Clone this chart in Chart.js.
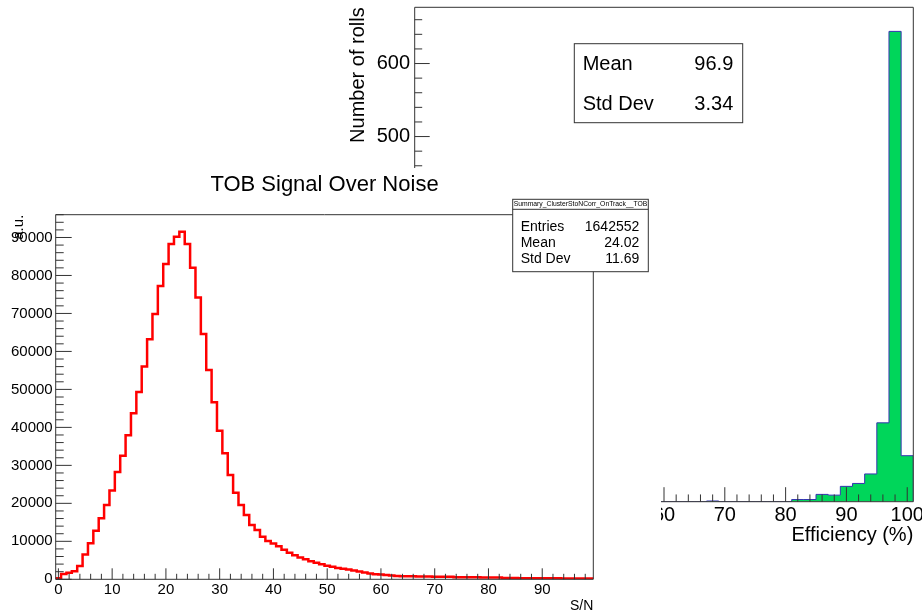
<!DOCTYPE html>
<html>
<head>
<meta charset="utf-8">
<script src="https://cdn.jsdelivr.net/npm/chart.js@4.4.1/dist/chart.umd.min.js"></script>
<style>
  html, body { margin: 0; padding: 0; background: #fff; }
  #wrap { position: relative; width: 922px; height: 612px; overflow: hidden; background: #fff; }
  #pad1 { position: absolute; left: 0; top: 0; width: 922px; height: 612px; }
  #pad2 { position: absolute; left: 0; top: 168px; width: 661px; height: 444px; background: #fff; }
  canvas { display: block; }
</style>
</head>
<body>
<div id="wrap">
  <div id="pad1"><canvas id="c1" width="922" height="612"></canvas></div>
  <div id="pad2"><canvas id="c2" width="661" height="444"></canvas></div>
</div>
<script>
// ---------------- Data: efficiency histogram (background pad) ----------------
const effBinCenters = [20,22,24,26,28,30,32,34,36,38,40,42,44,46,48,50,52,54,56,58,
                       60,62,64,66,68,70,72,74,76,78,80,82,84,86,88,90,92,94,96,98,100];
const effCounts     = [0,0,0,0,0,0,0,0,0,0,0,0,0,0,0,0,0,0,0,0,
                       0,0,0,0,1,0,0,0,0,0,0,3,3,10,9,21,25,38,108,644,63];
const effBinWidth = 2;
const effXTicks = [20,30,40,50,60,70,80,90,100];
const effYTicks = [0,100,200,300,400,500,600];
const effStats = [['Mean','96.9'],['Std Dev','3.34']];

// ---------------- Data: TOB signal over noise (foreground pad) ----------------
const snBinCenters = Array.from({length: 100}, (_, i) => i);
const snCounts = [
  300, 1400, 1750, 2100, 3500, 6500, 9500, 12800, 16050, 19550,
  23350, 28250, 32550, 37900, 43700, 49300, 56000, 63200, 69850, 77200,
  83000, 88300, 90200, 91500, 88300, 82000, 74200, 64600, 55100, 46600,
  39100, 33200, 27450, 22800, 19550, 16950, 14300, 13000, 11200, 10100,
  9400, 8700, 7800, 7000, 6300, 5750, 5250, 4750, 4350, 3950,
  3600, 3300, 3000, 2750, 2550, 2300, 2050, 1800, 1550, 1350,
  1250, 1100, 1000, 900, 820, 790, 780, 770, 760, 730,
  700, 690, 680, 670, 560, 540, 530, 520, 510, 500,
  490, 480, 470, 330, 320, 310, 300, 290, 280, 270,
  260, 255, 250, 245, 240, 235, 230, 225, 220, 215
];
const snBinWidth = 1;
const snXTicks = [0,10,20,30,40,50,60,70,80,90];
const snYTicks = [0,10000,20000,30000,40000,50000,60000,70000,80000,90000];
const snStatsHeader = 'Summary_ClusterStoNCorr_OnTrack__TOB';
const snStats = [['Entries','1642552'],['Mean','24.02'],['Std Dev','11.69']];

// ---------------- helpers ----------------
const FONT = "'Liberation Sans', Arial, Helvetica, sans-serif";
Chart.defaults.font.family = FONT;
Chart.defaults.color = '#000';

function stepPoints(centers, counts, width) {
  const pts = [{x: centers[0] - width / 2, y: 0}];
  centers.forEach((c, i) => pts.push({x: c - width / 2, y: counts[i]}));
  pts.push({x: centers[centers.length - 1] + width / 2, y: 0});
  return pts;
}

const rootFrame = {
  id: 'rootFrame',
  afterDatasetsDraw(chart, args, o) {
    const {ctx, chartArea: a, scales: {x, y}} = chart;
    ctx.save();
    ctx.strokeStyle = o.color;
    ctx.lineWidth = 1;
    ctx.beginPath();
    ctx.rect(a.left, a.top, a.right - a.left, a.bottom - a.top);
    const isMajor = (v, step) => Math.abs(v / step - Math.round(v / step)) < 1e-6;
    for (let v = Math.ceil(x.min / o.xMinor) * o.xMinor; v <= x.max + 1e-9; v += o.xMinor) {
      const px = x.getPixelForValue(v);
      const len = isMajor(v, o.xMajor) ? o.xTick : o.xTick / 2;
      ctx.moveTo(px, a.bottom); ctx.lineTo(px, a.bottom - len);
    }
    for (let v = Math.ceil(y.min / o.yMinor) * o.yMinor; v <= y.max + 1e-9; v += o.yMinor) {
      const py = y.getPixelForValue(v);
      const len = isMajor(v, o.yMajor) ? o.yTick : o.yTick / 2;
      ctx.moveTo(a.left, py); ctx.lineTo(a.left + len, py);
    }
    ctx.stroke();
    ctx.restore();
  },
  afterDraw(chart, args, o) {
    const s = o.stats;
    if (!s) return;
    const ctx = chart.ctx;
    ctx.save();
    ctx.fillStyle = '#fff';
    ctx.fillRect(s.left, s.top, s.right - s.left, s.bottom - s.top);
    ctx.strokeStyle = o.color;
    ctx.lineWidth = 1;
    ctx.strokeRect(s.left, s.top, s.right - s.left, s.bottom - s.top);
    ctx.fillStyle = '#000';
    ctx.textBaseline = 'middle';
    if (s.header) {
      ctx.beginPath(); ctx.moveTo(s.left, s.sepY); ctx.lineTo(s.right, s.sepY); ctx.stroke();
      ctx.font = s.headerSize + 'px ' + FONT;
      ctx.textAlign = 'center';
      ctx.fillText(s.header, (s.left + s.right) / 2, s.headerY, s.right - s.left - 2);
    }
    ctx.font = s.size + 'px ' + FONT;
    s.rows.forEach((r, i) => {
      ctx.textAlign = 'left';  ctx.fillText(r[0], s.labelX, s.rowY[i]);
      ctx.textAlign = 'right'; ctx.fillText(r[1], s.valueX, s.rowY[i]);
    });
    ctx.restore();
  }
};
Chart.register(rootFrame);

const noLegend = {legend: {display: false}, tooltip: {enabled: false}};

// ---------------- Chart 1: efficiency ----------------
new Chart(document.getElementById('c1'), {
  type: 'line',
  data: {
    datasets: [{
      data: stepPoints(effBinCenters, effCounts, effBinWidth),
      stepped: 'before',
      borderColor: '#3535b0',
      borderWidth: 1,
      backgroundColor: '#00d65a',
      fill: 'origin',
      pointRadius: 0
    }]
  },
  options: {
    responsive: false, animation: false, events: [],
    layout: {padding: {left: 340, top: 7.3, right: 922 - 913.3, bottom: 612 - 501.7 - 46}},
    plugins: {
      ...noLegend,
      rootFrame: {
        color: '#333', xMinor: 2, xMajor: 10, yMinor: 20, yMajor: 100, xTick: 14.5, yTick: 15,
        stats: {left: 574.3, top: 43.7, right: 742.7, bottom: 122.7, size: 20,
                labelX: 582.7, valueX: 733.3, rowY: [64.5, 104.5], rows: effStats}
      }
    },
    scales: {
      x: {
        type: 'linear', min: 19, max: 101, bounds: 'data',
        grid: {display: false, drawTicks: false}, border: {display: false},
        afterBuildTicks: s => { s.ticks = effXTicks.map(v => ({value: v})); },
        afterFit: s => { s.height = 46; s.paddingLeft = 0; s.paddingRight = 0; },
        ticks: {autoSkip: false, maxRotation: 0, padding: 2, font: {size: 20}, color: '#000', callback: v => String(v)},
        title: {display: true, text: 'Efficiency (%)', align: 'end', font: {size: 20}, color: '#000', padding: {top: 0, bottom: 0}}
      },
      y: {
        type: 'linear', min: 0, max: 677, bounds: 'data',
        grid: {display: false, drawTicks: false}, border: {display: false},
        afterBuildTicks: s => { s.ticks = effYTicks.map(v => ({value: v})); },
        afterFit: s => { s.width = 414.7 - 340; s.paddingTop = 0; s.paddingBottom = 0; },
        ticks: {autoSkip: false, padding: 4.7, font: {size: 20}, color: '#000', callback: v => String(v)},
        title: {display: true, text: 'Number of rolls', align: 'end', font: {size: 20}, color: '#000', padding: {top: 6, bottom: 0}}
      }
    }
  }
});

// ---------------- Chart 2: TOB signal over noise ----------------
new Chart(document.getElementById('c2'), {
  type: 'line',
  data: {
    datasets: [{
      data: stepPoints(snBinCenters, snCounts, snBinWidth),
      stepped: 'before',
      borderColor: '#ff0000',
      borderWidth: 2.5,
      fill: false,
      pointRadius: 0
    }]
  },
  options: {
    responsive: false, animation: false, events: [],
    layout: {padding: {left: 0, top: 0, right: 661 - 593.3, bottom: 0}},
    plugins: {
      ...noLegend,
      title: {display: true, text: 'TOB Signal Over Noise', fullSize: false, color: '#000',
              font: {size: 22, weight: 'normal'}, padding: {top: 3.8, bottom: 16.5}},
      rootFrame: {
        color: '#333', xMinor: 2, xMajor: 10, yMinor: 2000, yMajor: 10000, xTick: 11, yTick: 16,
        stats: {left: 512.7, top: 31.3, right: 648.3, bottom: 103.7, size: 14,
                header: snStatsHeader, headerSize: 7, headerY: 36.5, sepY: 41.3,
                labelX: 520.7, valueX: 639.3, rowY: [58.7, 74.7, 91.3], rows: snStats}
      }
    },
    scales: {
      x: {
        type: 'linear', min: -0.5, max: 99.5, bounds: 'data',
        grid: {display: false, drawTicks: false}, border: {display: false},
        afterBuildTicks: s => { s.ticks = snXTicks.map(v => ({value: v})); },
        afterFit: s => { s.height = 444 - 411.3; s.paddingLeft = 0; s.paddingRight = 0; },
        ticks: {autoSkip: false, maxRotation: 0, padding: 1.7, font: {size: 15}, color: '#000', callback: v => String(v)},
        title: {display: true, text: 'S/N', align: 'end', font: {size: 14}, color: '#000', padding: {top: 0, bottom: -3}}
      },
      y: {
        type: 'linear', min: 0, max: 96000, bounds: 'data',
        grid: {display: false, drawTicks: false}, border: {display: false},
        afterBuildTicks: s => { s.ticks = snYTicks.map(v => ({value: v})); },
        afterFit: s => { s.width = 55.7; s.paddingTop = 0; s.paddingBottom = 0; },
        ticks: {autoSkip: false, padding: 3, font: {size: 15}, color: '#000', callback: v => String(v)},
        title: {display: true, text: 'a.u.', align: 'end', font: {size: 15}, color: '#000', padding: {top: 10, bottom: 0}}
      }
    }
  }
});
</script>
</body>
</html>
